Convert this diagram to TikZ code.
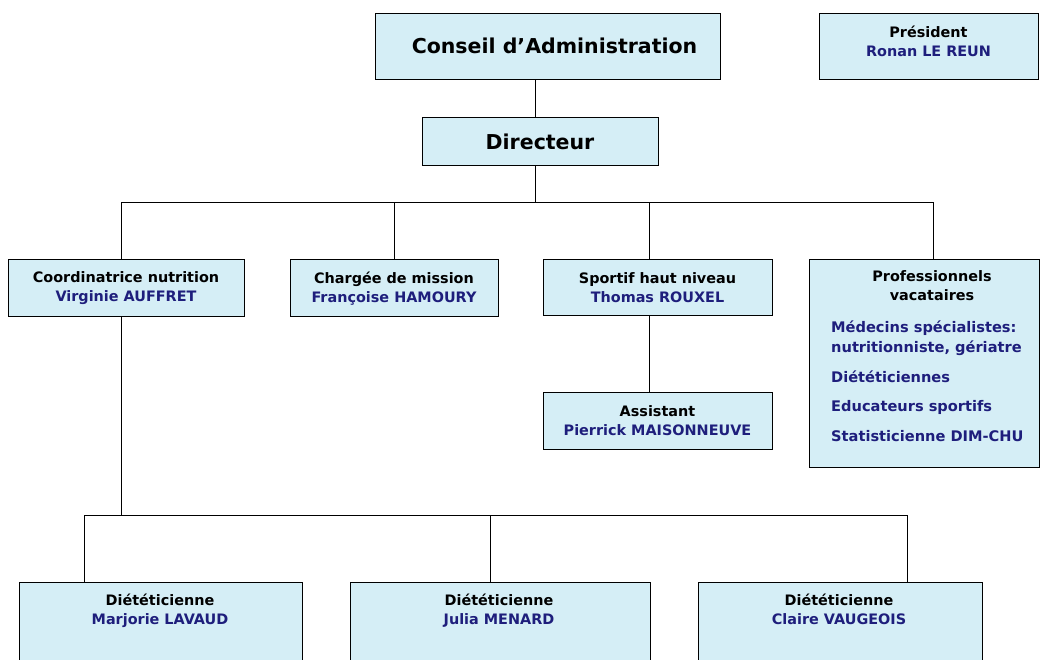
\documentclass[tikz,border=0pt]{standalone}
\usepackage{fontspec}
\setmainfont{DejaVu Sans}
\definecolor{boxfill}{HTML}{D5EEF6}
\definecolor{namecol}{HTML}{1E1E7C}
\tikzset{
  box/.style={draw=black, line width=1pt, fill=boxfill, inner sep=0pt, align=center},
  lbl/.style={font=\bfseries\fontsize{14.4}{19}\selectfont, align=center, inner sep=0pt},
  big/.style={font=\bfseries\fontsize{20.5}{24}\selectfont, inner sep=0pt},
  conn/.style={draw=black, line width=1pt},
}
\newcommand{\nm}[1]{\textcolor{namecol}{#1}}
\begin{document}
\begin{tikzpicture}[x=1pt,y=-1pt]
\useasboundingbox (0,0) rectangle (1044,660);
\clip (0,0) rectangle (1044,660);
\fill[white] (0,0) rectangle (1044,660);
% top
\node[box, minimum width=345, minimum height=66] (ca) at (547.5,47) {};
\node[big] (cat) at (554.5,46) {Conseil d'Administration};
\node[box, minimum width=219, minimum height=66] (pres) at (928.5,47) {};
\node[lbl] (prest) at (928.5,41.5) {Président\\\nm{Ronan LE REUN}};
\node[box, big, minimum width=236, minimum height=48] (dir) at (540,142) {Directeur};
% row 2
\node[box, lbl, minimum width=236, minimum height=57] (coord) at (126,288.5) {Coordinatrice nutrition\\\nm{Virginie AUFFRET}};
\node[box, lbl, minimum width=208, minimum height=57] (charg) at (394,288.5) {Chargée de mission\\\nm{Françoise HAMOURY}};
\node[box, lbl, minimum width=229, minimum height=56] (sport) at (657.5,288) {Sportif haut niveau\\\nm{Thomas ROUXEL}};
\node[box, lbl, minimum width=229, minimum height=57] (assist) at (657.5,420.5) {Assistant\\\nm{Pierrick MAISONNEUVE}};
\node[box, minimum width=230, minimum height=207] (prof) at (924.5,363.5) {};
\node[lbl, anchor=north] (proft) at (932,270) {Professionnels\\vacataires};
\node[lbl, anchor=north west, align=left, font=\bfseries\fontsize{14.6}{20}\selectfont, text=namecol] (profl) at (831,321) {Médecins spécialistes:\\nutritionniste, gériatre\\[10pt]Diététiciennes\\[9pt]Educateurs sportifs\\[10pt]Statisticienne DIM-CHU};
% bottom
\node[box, minimum width=283, minimum height=120, anchor=north] (d1) at (160.5,582) {};
\node[box, minimum width=300, minimum height=120, anchor=north] (d2) at (500,582) {};
\node[box, minimum width=284, minimum height=120, anchor=north] (d3) at (840,582) {};
\node[lbl, anchor=north] (d1t) at (160,594) {Diététicienne\\\nm{Marjorie LAVAUD}};
\node[lbl, anchor=north] (d2t) at (499,594) {Diététicienne\\\nm{Julia MENARD}};
\node[lbl, anchor=north] (d3t) at (839,594) {Diététicienne\\\nm{Claire VAUGEOIS}};
% connectors
\coordinate (bus1) at (535,203);
\coordinate (bus2) at (121,515);
\draw[conn] ([xshift=-12.5pt]ca.south) -- ([xshift=-12.5pt]ca.south |- dir.north);
\draw[conn] ([xshift=-5pt]dir.south) -- (bus1);
\draw[conn] (bus1) -| ([xshift=-5pt]coord.north);
\draw[conn] (bus1) -| (charg.north);
\draw[conn] (bus1) -| ([xshift=-8.5pt]sport.north);
\draw[conn] (bus1) -| ([xshift=9pt]prof.north);
\draw[conn] ([xshift=-8.5pt]sport.south) -- ([xshift=-8.5pt]assist.north);
\draw[conn] ([xshift=-5pt]coord.south) -- (bus2);
\draw[conn] (bus2) -| ([xshift=-76.5pt]d1.north);
\draw[conn] (bus2) -| ([xshift=-10pt]d2.north);
\draw[conn] (bus2) -| ([xshift=67pt]d3.north);
\end{tikzpicture}
\end{document}
